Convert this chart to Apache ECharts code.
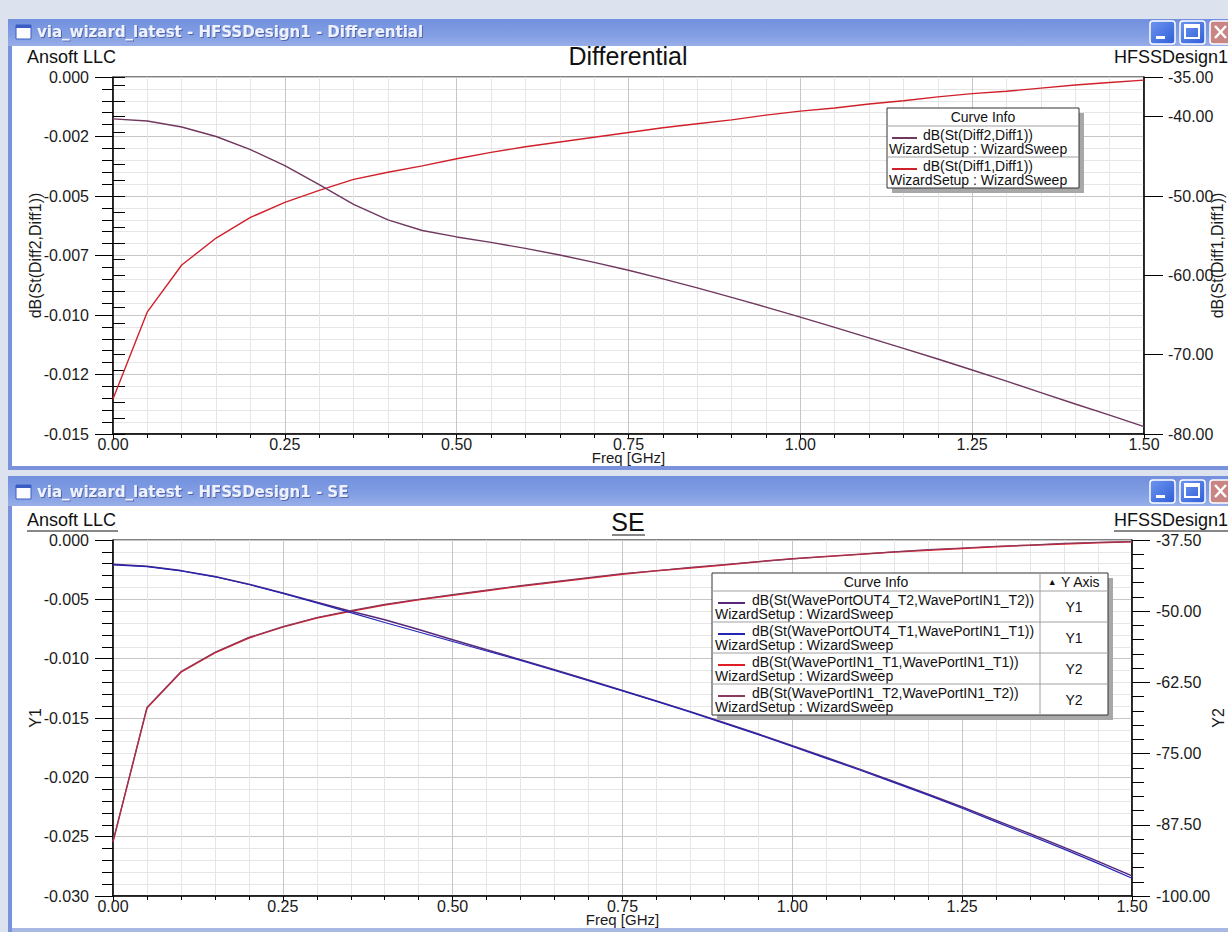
<!DOCTYPE html>
<html>
<head>
<meta charset="utf-8">
<script src="https://cdn.jsdelivr.net/npm/echarts@6/dist/echarts.min.js"></script>
<style>
html,body{margin:0;padding:0;background:#dde3ee;}
#c{width:1228px;height:932px;}
</style>
</head>
<body>
<div id="c"></div>
<script>
// ---------- DATA ----------
const freq = [0.00,0.05,0.10,0.15,0.20,0.25,0.30,0.35,0.40,0.45,0.50,0.55,0.60,0.65,0.70,0.75,0.80,0.85,0.90,0.95,1.00,1.05,1.10,1.15,1.20,1.25,1.30,1.35,1.40,1.45,1.50];

// Differential window
const diff2Diff1 = [-0.00176,-0.00185,-0.00210,-0.00250,-0.00305,-0.00372,-0.00452,-0.00535,-0.00600,-0.00645,-0.00672,-0.00695,-0.00720,-0.00748,-0.00779,-0.00812,-0.00848,-0.00886,-0.00926,-0.00967,-0.01009,-0.01052,-0.01096,-0.01140,-0.01185,-0.01231,-0.01278,-0.01326,-0.01374,-0.01421,-0.01469];
const diff1Diff1 = [-75.6,-64.6,-58.7,-55.3,-52.7,-50.8,-49.3,-47.9,-47.0,-46.2,-45.3,-44.5,-43.8,-43.2,-42.6,-42.0,-41.4,-40.9,-40.4,-39.8,-39.3,-38.9,-38.4,-38.0,-37.5,-37.1,-36.8,-36.4,-36.0,-35.7,-35.4];

// SE window
const out4T2 = [-0.00205,-0.00222,-0.00258,-0.00308,-0.00372,-0.00446,-0.00524,-0.00600,-0.00672,-0.00755,-0.00840,-0.00925,-0.01008,-0.01094,-0.01180,-0.01268,-0.01356,-0.01446,-0.01540,-0.01635,-0.01734,-0.01833,-0.01933,-0.02037,-0.02142,-0.02250,-0.02363,-0.02476,-0.02590,-0.02708,-0.02830];
const out4T1 = [-0.00210,-0.00225,-0.00260,-0.00310,-0.00375,-0.00450,-0.00530,-0.00612,-0.00695,-0.00775,-0.00855,-0.00935,-0.01015,-0.01100,-0.01185,-0.01272,-0.01360,-0.01450,-0.01545,-0.01640,-0.01740,-0.01840,-0.01940,-0.02045,-0.02150,-0.02260,-0.02375,-0.02490,-0.02605,-0.02725,-0.02850];
const in1T1 = [-90.5,-67.0,-60.7,-57.3,-54.7,-52.8,-51.2,-50.0,-48.9,-48.0,-47.2,-46.4,-45.6,-44.9,-44.2,-43.5,-42.9,-42.4,-41.9,-41.3,-40.8,-40.4,-40.0,-39.6,-39.3,-39.0,-38.7,-38.4,-38.2,-38.0,-37.8];
const in1T2 = [-90.4,-66.9,-60.6,-57.2,-54.6,-52.7,-51.1,-49.9,-48.8,-47.9,-47.1,-46.3,-45.5,-44.8,-44.1,-43.4,-42.9,-42.3,-41.8,-41.3,-40.8,-40.4,-40.0,-39.6,-39.2,-38.9,-38.6,-38.4,-38.1,-37.9,-37.8];

// tick labels
const xTickLabels = ['0.00','0.25','0.50','0.75','1.00','1.25','1.50'];
const topLeftTickLabels = ['-0.015','-0.012','-0.010','-0.007','-0.005','-0.002','0.000'];
const topRightTickLabels = ['-80.00','-70.00','-60.00','-50.00','-40.00','-35.00'];
const botLeftTickLabels = ['-0.030','-0.025','-0.020','-0.015','-0.010','-0.005','0.000'];
const botRightTickLabels = ['-100.00','-87.50','-75.00','-62.50','-50.00','-37.50'];

// legend texts
const topCurveNames = ['dB(St(Diff2,Diff1))','dB(St(Diff1,Diff1))'];
const botCurveNames = ['dB(St(WavePortOUT4_T2,WavePortIN1_T2))','dB(St(WavePortOUT4_T1,WavePortIN1_T1))','dB(St(WavePortIN1_T1,WavePortIN1_T1))','dB(St(WavePortIN1_T2,WavePortIN1_T2))'];
const botCurveAxes = ['Y1','Y1','Y2','Y2'];
const sweepName = 'WizardSetup : WizardSweep';

// ---------- STYLE ----------
const FONT = '"Liberation Sans", Arial, sans-serif';
const topColors = ['#70385e','#d0202a'];
const botColors = ['#55287a','#2424b4','#e01c24','#8a3a5e'];

const chart = echarts.init(document.getElementById('c'), null, {renderer:'svg'});

function pairs(vals){ return freq.map((f,i)=>[f, vals[i]]); }
function lookupFmt(labels, min, interval){
  return function(v){
    const i = Math.round((v - min)/interval);
    return labels[i] !== undefined ? labels[i] : '';
  };
}
function lookupVals(labels, vals){
  return function(v){
    for (let i=0;i<vals.length;i++) if (Math.abs(vals[i]-v)<1e-9) return labels[i];
    return '';
  };
}

const labelStyle = {fontFamily:FONT, fontSize:16, color:'#1a1a1a'};
const nameStyle = {fontFamily:FONT, fontSize:16, color:'#1a1a1a'};

function xAxisCfg(grid){
  return {
    type:'value', gridIndex:grid, min:0, max:1.5, interval:0.25,
    axisLine:{show:true, onZero:false, lineStyle:{color:'#000', width:1.5}},
    axisTick:{show:true, length:5, lineStyle:{color:'#000'}},
    minorTick:{show:true, splitNumber:5, length:4, lineStyle:{color:'#000'}},
    splitLine:{show:true, lineStyle:{color:'#c6c6c6', width:1}},
    minorSplitLine:{show:true, lineStyle:{color:'#e6e6e6', width:1}},
    axisLabel:Object.assign({margin:2, formatter:lookupFmt(xTickLabels,0,0.25)}, labelStyle),
    name:'Freq [GHz]', nameLocation:'middle', nameGap:16, nameMoveOverlap:false,
    nameTextStyle:Object.assign({}, nameStyle, {fontSize:15})
  };
}
function leftAxisCfg(grid, min, interval, labels, name, gap){
  return {
    type:'value', gridIndex:grid, position:'left', min:min, max:0, interval:interval,
    axisLine:{show:true, onZero:false, lineStyle:{color:'#000', width:1.5}},
    axisTick:{show:true, length:18, lineStyle:{color:'#000'}},
    minorTick:{show:true, splitNumber:5, length:11, lineStyle:{color:'#000'}},
    splitLine:{show:true, lineStyle:{color:'#c6c6c6', width:1}},
    minorSplitLine:{show:true, lineStyle:{color:'#e6e6e6', width:1}},
    axisLabel:Object.assign({margin:24, formatter:lookupFmt(labels,min,interval)}, labelStyle),
    name:name, nameLocation:'middle', nameGap:gap, nameRotate:90, nameMoveOverlap:false, nameTextStyle:nameStyle
  };
}

const option = {
  backgroundColor:'#ffffff',
  animation:false,
  title:[
    {text:'Differential', left:628, top:43, textAlign:'center', padding:0,
     textStyle:{fontFamily:FONT, fontSize:25, fontWeight:'normal', color:'#111'}},
    {text:'SE', left:628, top:509, textAlign:'center', padding:0,
     textStyle:{fontFamily:FONT, fontSize:25, fontWeight:'normal', color:'#111'}}
  ],
  grid:[
    {left:113, top:77, width:1031, height:357, show:true, borderColor:'#000', borderWidth:1, backgroundColor:'#fff', containLabel:false, outerBoundsMode:'none'},
    {left:113, top:540, width:1019, height:356, show:true, borderColor:'#000', borderWidth:1, backgroundColor:'#fff', containLabel:false, outerBoundsMode:'none'}
  ],
  xAxis:[xAxisCfg(0), xAxisCfg(1)],
  yAxis:[
    leftAxisCfg(0, -0.015, 0.0025, topLeftTickLabels, 'dB(St(Diff2,Diff1))', 70),
    {
      type:'value', gridIndex:0, position:'right', min:-80, max:-35, interval:10,
      axisLine:{show:true, onZero:false, lineStyle:{color:'#000', width:1.5}},
      axisTick:{show:true, length:19, lineStyle:{color:'#000'}},
      splitLine:{show:false},
      axisLabel:Object.assign({margin:24, formatter:lookupVals(topRightTickLabels,[-80,-70,-60,-50,-40,-35])}, labelStyle),
      name:'dB(St(Diff1,Diff1))', nameLocation:'middle', nameGap:65, nameRotate:90, nameMoveOverlap:false, nameTextStyle:nameStyle
    },
    {
      type:'value', gridIndex:0, position:'right', min:-80, max:-35, interval:2,
      axisLine:{show:false}, axisTick:{show:true, length:12, lineStyle:{color:'#000'}},
      splitLine:{show:false}, axisLabel:{show:false}
    },
    leftAxisCfg(1, -0.03, 0.005, botLeftTickLabels, 'Y1', 70),
    {
      type:'value', gridIndex:1, position:'right', min:-100, max:-37.5, interval:12.5,
      axisLine:{show:true, onZero:false, lineStyle:{color:'#000', width:1.5}},
      axisTick:{show:true, length:18, lineStyle:{color:'#000'}},
      minorTick:{show:true, splitNumber:5, length:12, lineStyle:{color:'#000'}},
      splitLine:{show:false},
      axisLabel:Object.assign({margin:24, formatter:lookupFmt(botRightTickLabels,-100,12.5)}, labelStyle),
      name:'Y2', nameLocation:'middle', nameGap:78, nameRotate:90, nameMoveOverlap:false, nameTextStyle:nameStyle
    }
  ],
  series:[
    {name:topCurveNames[1], type:'line', xAxisIndex:0, yAxisIndex:1, data:pairs(diff1Diff1), showSymbol:false, silent:true, lineStyle:{color:topColors[1], width:1.4}, z:3},
    {name:topCurveNames[0], type:'line', xAxisIndex:0, yAxisIndex:0, data:pairs(diff2Diff1), showSymbol:false, silent:true, lineStyle:{color:topColors[0], width:1.4}, z:4},
    {name:botCurveNames[2], type:'line', xAxisIndex:1, yAxisIndex:4, data:pairs(in1T1), showSymbol:false, silent:true, lineStyle:{color:botColors[2], width:1.5}, z:3},
    {name:botCurveNames[3], type:'line', xAxisIndex:1, yAxisIndex:4, data:pairs(in1T2), showSymbol:false, silent:true, lineStyle:{color:botColors[3], width:1.2}, z:4},
    {name:botCurveNames[0], type:'line', xAxisIndex:1, yAxisIndex:3, data:pairs(out4T2), showSymbol:false, silent:true, lineStyle:{color:botColors[0], width:1.5}, z:3},
    {name:botCurveNames[1], type:'line', xAxisIndex:1, yAxisIndex:3, data:pairs(out4T1), showSymbol:false, silent:true, lineStyle:{color:botColors[1], width:1.2}, z:4}
  ],
  graphic:[]
};

// ---------- window chrome ----------
const G = option.graphic;
const LIGHT = '#dde3ee', BORDER = '#7a92dc';
const barGrad = {type:'linear', x:0, y:0, x2:0, y2:1, colorStops:[{offset:0,color:'#7290de'},{offset:0.6,color:'#829ee3'},{offset:1,color:'#98aee8'}]};
function rect(x,y,w,h,fill,z,extra){ G.push(Object.assign({type:'rect', silent:true, z:z||100, shape:{x:x,y:y,width:w,height:h}, style:{fill:fill}}, extra||{})); }
function txt(x,y,t,font,fill,align,z,extraStyle){
  G.push({type:'text', silent:true, z:z||100, x:x, y:y,
    style:Object.assign({text:t, font:font, fill:fill, textAlign:align||'left', textVerticalAlign:'middle', verticalAlign:'middle'}, extraStyle||{})});
}
function line(x1,y1,x2,y2,color,w,z){ G.push({type:'line', silent:true, z:z||100, shape:{x1:x1,y1:y1,x2:x2,y2:y2}, style:{stroke:color, lineWidth:w||1}}); }

rect(0,0,1228,19,LIGHT);
rect(0,0,8,932,LIGHT);
rect(8,19,4,913,BORDER);
rect(8,19,1220,27,barGrad);
rect(12,466,1216,4,BORDER);
rect(0,470,1228,6,LIGHT);
rect(8,476,4,456,BORDER);
rect(8,476,1220,30,barGrad);
rect(12,928,1216,4,'#a9b8e2');

function windowIcon(x,y){
  rect(x,y,15,14,'#ffffff',101,{style:{fill:'#fdfdff', stroke:'#3b5cc4', lineWidth:1}});
  rect(x,y,15,3,'#3b5cc4',102);
}
function windowButtons(y){
  const btnBlue = {type:'linear',x:0,y:0,x2:1,y2:1,colorStops:[{offset:0,color:'#6f95f0'},{offset:1,color:'#2f5fd8'}]};
  G.push({type:'rect', silent:true, z:101, shape:{x:1150,y:y,width:25,height:23,r:3}, style:{fill:btnBlue, stroke:'#ffffff', lineWidth:1.5}});
  rect(1156,y+15,9,3,'#ffffff',102);
  G.push({type:'rect', silent:true, z:101, shape:{x:1180,y:y,width:25,height:23,r:3}, style:{fill:btnBlue, stroke:'#ffffff', lineWidth:1.5}});
  G.push({type:'rect', silent:true, z:102, shape:{x:1185,y:y+4,width:14,height:13}, style:{fill:'none', stroke:'#ffffff', lineWidth:2}});
  rect(1185,y+4,14,3,'#ffffff',102);
  G.push({type:'rect', silent:true, z:101, shape:{x:1210,y:y,width:25,height:23,r:3}, style:{fill:'#c98484', stroke:'#ffffff', lineWidth:1.5}});
  line(1215,y+5,1226,y+17,'#ffffff',2.5,102);
  line(1226,y+5,1215,y+17,'#ffffff',2.5,102);
}
windowIcon(16,25); windowButtons(21);
windowIcon(16,485); windowButtons(480);

const TITLE_FONT = 'bold 15px "DejaVu Sans", sans-serif';
const titleShadow = {textShadowColor:'rgba(20,30,90,0.45)', textShadowBlur:1, textShadowOffsetX:1, textShadowOffsetY:1};
txt(37,32,'via_wizard_latest - HFSSDesign1 - Differential',TITLE_FONT,'#eef2ff','left',101,titleShadow);
txt(37,492,'via_wizard_latest - HFSSDesign1 - SE',TITLE_FONT,'#eef2ff','left',101,titleShadow);

// corner labels
const CORNER_FONT = '18px ' + FONT;
txt(27,57,'Ansoft LLC',CORNER_FONT,'#111','left',50);
txt(1114,57,'HFSSDesign1',CORNER_FONT,'#111','left',50);
txt(27,520,'Ansoft LLC',CORNER_FONT,'#111','left',50);
txt(1114,520,'HFSSDesign1',CORNER_FONT,'#111','left',50);
line(27,531,118,531,'#111',1,50);
line(1114,531,1228,531,'#111',1,50);
line(612,535,645,535,'#111',1.2,50);

// ---------- legend tables ----------
const LFONT = '14px ' + FONT;
function legendTop(){
  const x=887, y=108, w=192, h=80;
  rect(x+5,y+5,w,h,'#a8a8a8',60);
  G.push({type:'rect', silent:true, z:61, shape:{x:x,y:y,width:w,height:h}, style:{fill:'#fff', stroke:'#333', lineWidth:1}});
  txt(x+w/2,y+9,'Curve Info',LFONT,'#111','center',62);
  line(x,y+18,x+w,y+18,'#a0a0a0',1,62);
  line(x,y+49,x+w,y+49,'#a0a0a0',1,62);
  topCurveNames.forEach((n,i)=>{
    const ry = y+18+i*31;
    line(x+5,ry+12,x+30,ry+12,topColors[i],2,62);
    txt(x+36,ry+9,n,LFONT,'#111','left',62);
    txt(x+2,ry+23,sweepName,LFONT,'#111','left',62);
  });
}
function legendBottom(){
  const x=712, y=573, w=396, h=142, colX=1040;
  rect(x+5,y+5,w,h,'#a8a8a8',60);
  G.push({type:'rect', silent:true, z:61, shape:{x:x,y:y,width:w,height:h}, style:{fill:'#fff', stroke:'#333', lineWidth:1}});
  txt((x+colX)/2,y+9,'Curve Info',LFONT,'#111','center',62);
  G.push({type:'text', silent:true, z:62, x:(colX+x+w)/2, y:y+9,
    style:{text:'{a|▲} Y Axis', font:LFONT, fill:'#111', textAlign:'center', textVerticalAlign:'middle', verticalAlign:'middle',
      rich:{a:{fontSize:9, fontFamily:FONT, fill:'#111'}}}});
  line(colX,y,colX,y+h,'#a0a0a0',1,62);
  for (let i=0;i<4;i++){
    const ry = y+18+i*31;
    line(x,ry,x+w,ry,'#a0a0a0',1,62);
    line(x+6,ry+12,x+33,ry+12,botColors[i],2,62);
    txt(x+40,ry+9,botCurveNames[i],LFONT,'#111','left',62);
    txt(x+3,ry+23,sweepName,LFONT,'#111','left',62);
    txt((colX+x+w)/2,ry+16,botCurveAxes[i],LFONT,'#111','center',62);
  }
}
legendTop();
legendBottom();

chart.setOption(option);
</script>
</body>
</html>
